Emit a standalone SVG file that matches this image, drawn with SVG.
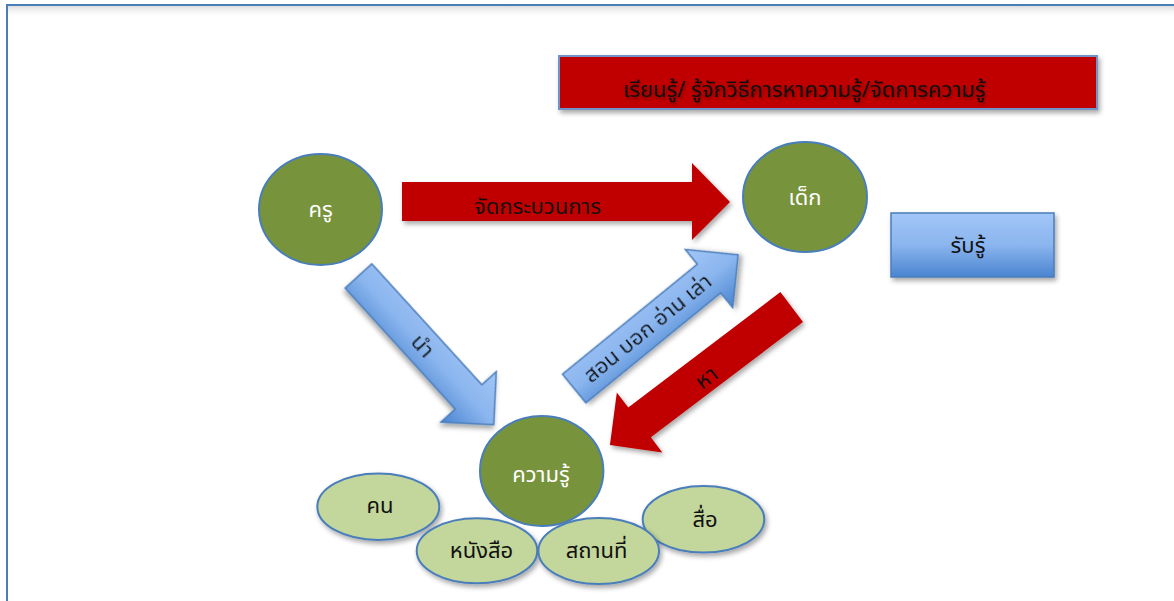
<svg xmlns="http://www.w3.org/2000/svg" width="1174" height="601" viewBox="0 0 1174 601">
<defs>
<style>
.t{font-family:"Noto Sans Thai","Noto Sans","DejaVu Sans",sans-serif;font-size:22px;}
.w{fill:#ffffff;}
.d{fill:#111111;}
.big{fill:#77933c;stroke:#4a7ebb;stroke-width:2;}
.small{fill:#c3d69b;stroke:#4a7ebb;stroke-width:2;}
.red{fill:#c00000;}
.blue{fill:url(#bg);stroke:#4a7ebb;stroke-width:1.5;}
</style>
<linearGradient id="bg" x1="0" y1="0" x2="0" y2="1">
<stop offset="0" stop-color="#a3c6f7"/>
<stop offset="0.5" stop-color="#8ab5ee"/>
<stop offset="1" stop-color="#4a84d0"/>
</linearGradient>
<linearGradient id="topShade" x1="0" y1="0" x2="0" y2="1">
<stop offset="0" stop-color="#dcdcdc"/>
<stop offset="1" stop-color="#ffffff" stop-opacity="0"/>
</linearGradient>
<filter id="sh" x="-20%" y="-20%" width="140%" height="150%">
<feDropShadow dx="2" dy="3" stdDeviation="2.5" flood-color="#000" flood-opacity="0.35"/>
</filter>
<filter id="tsh" x="-20%" y="-50%" width="140%" height="200%">
<feDropShadow dx="1" dy="2" stdDeviation="1.5" flood-color="#000" flood-opacity="0.35"/>
</filter>
</defs>

<g id="frame">
<rect x="0" y="0" width="1174" height="601" fill="#ffffff"/>
<rect x="8" y="6" width="1166" height="12" fill="url(#topShade)"/>
<rect x="7" y="5" width="1180" height="610" fill="none" stroke="#4a7ebb" stroke-width="2"/>
</g>

<g id="title">
<rect x="559" y="56" width="538" height="53" fill="#c00000" stroke="#6f94c8" stroke-width="2" filter="url(#sh)"/>
<text class="t d" x="804.5" y="97" text-anchor="middle" filter="url(#tsh)">เรียนรู้/ รู้จักวิธีการหาความรู้/จัดการความรู้</text>
</g>

<g id="connectors">
<g id="arrow-jadkrabuankan" filter="url(#sh)">
<polygon class="red" points="402,182 692,182 692,163 730,202 692,240 692,221 402,221"/>
<text class="t d" x="538" y="214" text-anchor="middle">จัดกระบวนการ</text>
</g>
<g id="arrow-nam" transform="translate(358.5,276) rotate(47.7)" filter="url(#sh)">
<polygon class="blue" points="0,-18 163.5,-18 163.5,-37.5 201,0 163.5,37.5 163.5,18 0,18"/>
<text class="t d" x="95" y="7" text-anchor="middle">นำ</text>
</g>
<g id="arrow-son" transform="translate(574.2,388.5) rotate(-39.2)" filter="url(#sh)">
<polygon class="blue" points="0,-18.5 174,-18.5 174,-37.5 211.5,0 174,37.5 174,18.5 0,18.5"/>
<text class="t d" x="95" y="7" text-anchor="middle">สอน บอก อ่าน เล่า</text>
</g>
<g id="arrow-ha" filter="url(#sh)">
<polygon class="red" transform="translate(791.7,307) rotate(142.8)" points="0,-18.7 191,-18.7 191,-37.6 228.2,0 191,37.6 191,18.7 0,18.7"/>
<text class="t d" transform="translate(707,378) rotate(-37.2)" x="0" y="7" text-anchor="middle">หา</text>
</g>
</g>

<g id="node-kru">
<ellipse class="big" cx="320.5" cy="209.5" rx="61.5" ry="55.5"/>
<text class="t w" x="320.5" y="217" text-anchor="middle">ครู</text>
</g>

<g id="node-dek">
<ellipse class="big" cx="805" cy="197" rx="62" ry="55"/>
<text class="t w" x="805" y="205" text-anchor="middle">เด็ก</text>
</g>

<g id="node-rabru">
<rect class="blue" x="891" y="213" width="163" height="64" filter="url(#sh)"/>
<text class="t d" x="968" y="253" text-anchor="middle">รับรู้</text>
</g>

<g id="node-khwamru">
<ellipse class="big" cx="541.7" cy="471" rx="61.7" ry="55"/>
<text class="t w" x="541" y="482" text-anchor="middle">ความรู้</text>
</g>

<g id="node-khon">
<ellipse class="small" cx="378.3" cy="506.7" rx="61" ry="33.3" filter="url(#sh)"/>
<text class="t d" x="380" y="513" text-anchor="middle">คน</text>
</g>

<g id="node-sue">
<ellipse class="small" cx="703.5" cy="519.3" rx="60.8" ry="33.3" filter="url(#sh)"/>
<text class="t d" x="705" y="527" text-anchor="middle">สื่อ</text>
</g>

<g id="node-nangsue">
<ellipse class="small" cx="477" cy="550.8" rx="60.3" ry="32.5" filter="url(#sh)"/>
<text class="t d" x="481.5" y="558" text-anchor="middle">หนังสือ</text>
</g>

<g id="node-sathanthi">
<ellipse class="small" cx="598.7" cy="551" rx="60.3" ry="33" filter="url(#sh)"/>
<text class="t d" x="596.5" y="558" text-anchor="middle">สถานที่</text>
</g>
</svg>
